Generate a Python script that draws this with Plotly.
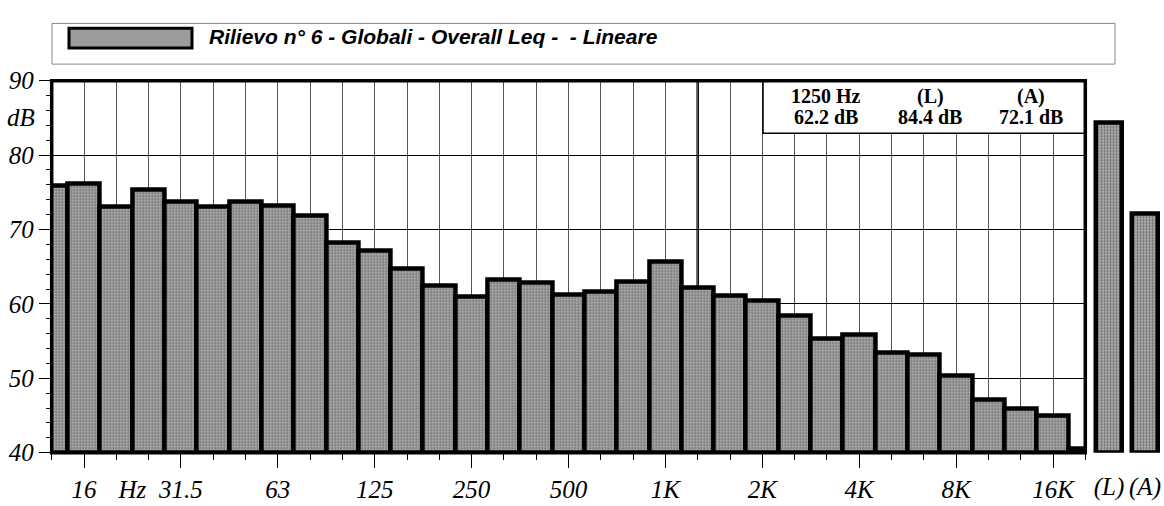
import plotly.graph_objects as go

# 1/3-octave bands, 12.5 Hz .. 20 kHz
bands = ["12.5", "16", "20", "25", "31.5", "40", "50", "63", "80", "100",
         "125", "160", "200", "250", "315", "400", "500", "630", "800", "1K",
         "1.25K", "1.6K", "2K", "2.5K", "3.15K", "4K", "5K", "6.3K", "8K", "10K",
         "12.5K", "16K", "20K"]
levels = [75.9, 76.1, 73.0, 75.4, 73.8, 73.0, 73.8, 73.2, 71.8, 68.2,
          67.2, 64.7, 62.5, 61.0, 63.3, 62.8, 61.2, 61.6, 63.0, 65.7,
          62.2, 61.1, 60.5, 58.4, 55.3, 55.8, 53.4, 53.2, 50.4, 47.1,
          45.9, 45.0, 40.5]
octave_labels = ["16", "31.5", "63", "125", "250", "500", "1K", "2K", "4K", "8K", "16K"]
unit_label = "Hz"
overall_labels = ["(L)", "(A)"]
overall_levels = [84.4, 72.1]
cursor_band = 20
cursor_name = "1250 Hz"
title_text = "Rilievo n° 6 - Globali - Overall Leq -  - Lineare"
y_ticks = [40, 50, 60, 70, 80, 90]
FLOOR = 40

W, H = 1164, 506
X0, X1 = 51.7, 1085.3
Y_TOP, Y_BOT = 71.5, 464.5

def px(x):
    return x / W

def py(y):
    return 1 - y / H

def ital(s):
    return f"<i>{s}</i>"

SERIF = "Liberation Serif"
SANS = "Liberation Sans"

bar_marker = dict(
    color="#a0a0a0",
    line=dict(color="black", width=4.5),
    pattern=dict(shape=".", fgcolor="#282828", bgcolor="#b4b4b4", size=3, solidity=0.45),
)

idx = list(range(len(bands)))
n = len(bands)
fig = go.Figure()
fig.add_trace(go.Bar(x=idx, y=[v - FLOOR for v in levels], base=FLOOR, width=1.0,
                     marker=bar_marker, showlegend=False, hoverinfo="skip"))
fig.add_trace(go.Bar(x=[0, 1], y=[v - FLOOR for v in overall_levels], base=FLOOR, width=0.7,
                     marker=bar_marker, xaxis="x2", yaxis="y2",
                     showlegend=False, hoverinfo="skip"))
# empty trace so the unit-label axis is drawn
fig.add_trace(go.Scatter(x=[None], y=[None], xaxis="x3", yaxis="y",
                         showlegend=False, hoverinfo="skip"))

major_idx = [bands.index(l) for l in octave_labels]
tick_font = dict(family=SERIF, size=25, color="black", style="italic")

fig.update_layout(
    width=W, height=H,
    margin=dict(l=0, r=0, t=0, b=0),
    paper_bgcolor="white", plot_bgcolor="white",
    bargap=0,
    xaxis=dict(
        domain=[px(X0), px(X1)], range=[0, n - 1],
        tickmode="array", tickvals=major_idx, ticktext=[ital(l) for l in octave_labels],
        ticks="outside", ticklen=14, tickwidth=1, tickcolor="black",
        showgrid=True, gridcolor="#555", gridwidth=1,
        minor=dict(tickmode="linear", tick0=0, dtick=1, ticks="outside", ticklen=6,
                   tickwidth=1, tickcolor="black", showgrid=True, gridcolor="#555", gridwidth=1),
        tickfont=tick_font, showline=False, zeroline=False, fixedrange=True,
    ),
    xaxis3=dict(
        overlaying="x", anchor="y", side="bottom", range=[0, n - 1],
        tickmode="array", tickvals=[2.5], ticktext=[ital(unit_label)],
        ticks="outside", ticklen=14, tickcolor="rgba(0,0,0,0)",
        showgrid=False, zeroline=False, showline=False,
        tickfont=tick_font, fixedrange=True,
    ),
    yaxis=dict(
        domain=[py(Y_BOT), py(Y_TOP)], range=[40, 90],
        tickmode="array", tickvals=y_ticks, ticktext=[ital(t) for t in y_ticks],
        ticks="outside", ticklen=12, tickwidth=1, tickcolor="black",
        showgrid=True, gridcolor="black", gridwidth=1,
        minor=dict(tickmode="linear", tick0=40, dtick=2, ticks="outside", ticklen=5,
                   tickwidth=1, tickcolor="black", showgrid=False),
        tickfont=tick_font, showline=False, zeroline=False, fixedrange=True,
    ),
    xaxis2=dict(
        domain=[px(1091), px(1163)], range=[-0.5, 1.5], anchor="y2",
        tickmode="array", tickvals=[0, 1], ticktext=[ital(l) for l in overall_labels],
        ticks="", showgrid=False, zeroline=False, showline=False,
        tickfont=tick_font, ticklabelstandoff=16,
    ),
    yaxis2=dict(
        domain=[py(Y_BOT), py(Y_TOP)], range=[40, 90], anchor="x2",
        visible=False, showgrid=False,
    ),
)

shapes = []
# cursor line at the selected band
shapes.append(dict(type="line", xref="x", yref="paper", x0=cursor_band, x1=cursor_band,
                   y0=py(Y_BOT), y1=py(Y_TOP), line=dict(color="black", width=2.5),
                   layer="below"))
# cursor read-out box
shapes.append(dict(type="rect", xref="paper", yref="paper",
                   x0=px(763), x1=px(X1), y0=py(127), y1=py(Y_TOP),
                   fillcolor="white", line=dict(color="black", width=1.5), layer="above"))
# plot frame
shapes.append(dict(type="rect", xref="paper", yref="paper",
                   x0=px(X0), x1=px(X1), y0=py(Y_BOT), y1=py(Y_TOP),
                   line=dict(color="black", width=3.5), layer="above"))
# title box and swatch
shapes.append(dict(type="rect", xref="paper", yref="paper",
                   x0=px(52), x1=px(1115), y0=py(54), y1=py(11),
                   line=dict(color="#888", width=1), layer="above"))
shapes.append(dict(type="rect", xref="paper", yref="paper",
                   x0=px(69), x1=px(192), y0=py(37), y1=py(16),
                   fillcolor="#9c9c9c", line=dict(color="black", width=3), layer="above"))
fig.update_layout(shapes=shapes)

info_font = dict(family=SERIF, size=20, color="black", weight="bold")
annotations = [
    dict(x=px(207), y=py(25), xref="paper", yref="paper", xanchor="left", yanchor="middle",
         text=title_text, showarrow=False,
         font=dict(family=SANS, size=21, color="black", weight="bold", style="italic")),
    dict(x=px(37), y=85, xref="paper", yref="y", xanchor="right", yanchor="middle",
         text=ital("dB"), showarrow=False, font=tick_font),
]
cols = [(826, cursor_name, f"{levels[cursor_band]:.1f} dB"),
        (930, overall_labels[0], f"{overall_levels[0]:.1f} dB"),
        (1031, overall_labels[1], f"{overall_levels[1]:.1f} dB")]
for cx, top, bottom in cols:
    annotations.append(dict(x=px(cx), y=py(88), xref="paper", yref="paper",
                            xanchor="center", yanchor="middle", text=top,
                            showarrow=False, font=info_font))
    annotations.append(dict(x=px(cx), y=py(110), xref="paper", yref="paper",
                            xanchor="center", yanchor="middle", text=bottom,
                            showarrow=False, font=info_font))
fig.update_layout(annotations=annotations)

fig.write_html("out.html")
